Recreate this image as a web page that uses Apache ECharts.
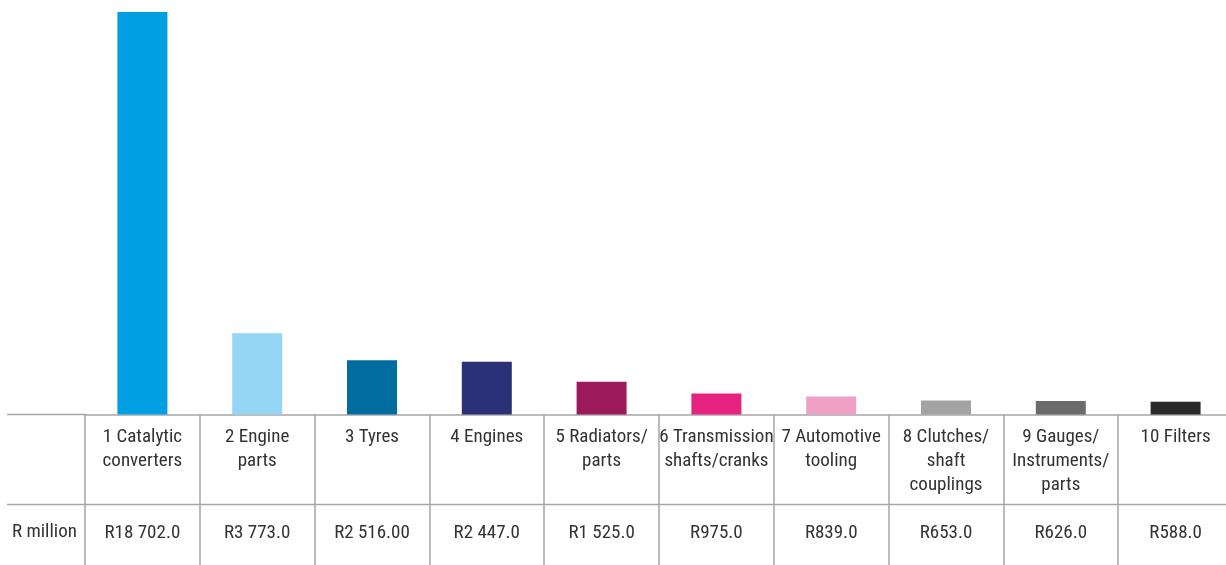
<!DOCTYPE html>
<html>
<head>
<meta charset="utf-8">
<script src="https://cdn.jsdelivr.net/npm/echarts@6/dist/echarts.min.js"></script>
<style>
  html, body { margin: 0; padding: 0; background: #ffffff; overflow: hidden; }
  /* the table's last column runs slightly past the right edge of the view */
  #chart { width: 1233px; height: 565px; }
</style>
</head>
<body>
<div id="chart"></div>
<script>
// Top ten automotive component exports, R million
const categories = [
  '1 Catalytic\nconverters',
  '2 Engine\nparts',
  '3 Tyres',
  '4 Engines',
  '5 Radiators/\nparts',
  '6 Transmission\nshafts/cranks',
  '7 Automotive\ntooling',
  '8 Clutches/\nshaft\ncouplings',
  '9 Gauges/\nInstruments/\nparts',
  '10 Filters'
];
const values = [18702, 3773, 2516, 2447, 1525, 975, 839, 653, 626, 588];
const valueLabels = [
  'R18 702.0', 'R3 773.0', 'R2 516.00', 'R2 447.0', 'R1 525.0',
  'R975.0', 'R839.0', 'R653.0', 'R626.0', 'R588.0'
];
const barColors = [
  '#009fe3', '#95d5f5', '#006d9e', '#2b3177', '#9c1a5c',
  '#e5227f', '#eea0c6', '#a3a3a3', '#6b6b6b', '#2a2a2a'
];
const rowLabel = 'R million';

const FONT = '"Roboto Condensed", Roboto, sans-serif';
const TEXT = '#333333';
const RULE = '#a6a6a6';

const chart = echarts.init(document.getElementById('chart'), null, { renderer: 'canvas' });

chart.setOption({
  animation: false,
  grid: { left: 85, right: 0, top: 12, bottom: 150.5, containLabel: false },
  xAxis: [
    {
      type: 'category',
      data: categories,
      position: 'bottom',
      axisLine: { show: true, lineStyle: { color: RULE, width: 1.5 } },
      axisTick: { show: true, alignWithLabel: false, length: 151, lineStyle: { color: RULE, width: 1.5 } },
      axisLabel: {
        interval: 0,
        margin: 11,
        verticalAlign: 'top',
        fontFamily: FONT,
        fontSize: 19,
        lineHeight: 24,
        color: TEXT,
        align: 'center'
      }
    },
    {
      type: 'category',
      data: valueLabels,
      position: 'bottom',
      axisLine: { show: false },
      axisTick: { show: false },
      axisLabel: {
        interval: 0,
        margin: 107,
        verticalAlign: 'top',
        fontFamily: FONT,
        fontSize: 19,
        lineHeight: 24,
        color: TEXT
      }
    }
  ],
  yAxis: {
    type: 'value',
    min: 0,
    max: 'dataMax',
    show: false
  },
  series: [{
    type: 'bar',
    xAxisIndex: 0,
    barWidth: 50,
    data: values.map((v, i) => ({ value: v, itemStyle: { color: barColors[i] } }))
  }],
  graphic: [
    // baseline continuation under the row-label column
    { type: 'line', shape: { x1: 7, y1: 414.5, x2: 86, y2: 414.5 }, style: { stroke: RULE, lineWidth: 1.5 } },
    // rule between name row and value row
    { type: 'line', shape: { x1: 7, y1: 504.5, x2: 1233, y2: 504.5 }, style: { stroke: RULE, lineWidth: 1.5 } },
    {
      type: 'text', left: 12, top: 523,
      style: { text: rowLabel, font: '19px ' + FONT, fill: TEXT }
    }
  ]
});
</script>
</body>
</html>
